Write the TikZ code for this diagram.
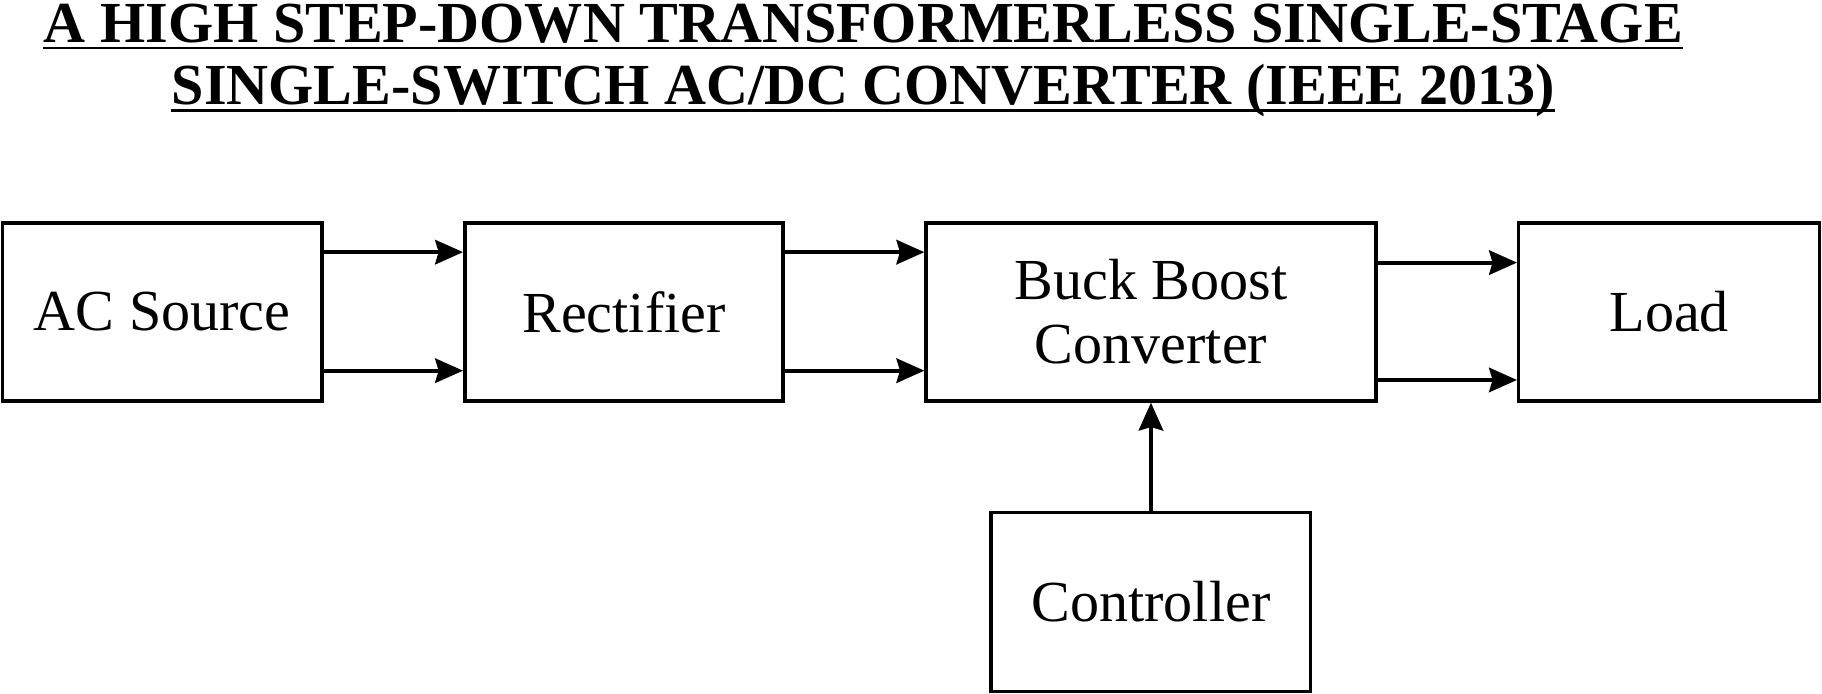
\documentclass[tikz,border=0pt]{standalone}
\usepackage{fontspec}
\setmainfont{Liberation Serif}
\usetikzlibrary{arrows.meta}
\begin{document}
\begin{tikzpicture}[x=0.5pt,y=-0.5pt,
  blk/.style={draw,line width=1.5pt,inner sep=0pt,font=\fontsize{25}{27.5}\selectfont,align=center},
  arr/.style={line width=1.7pt,-{Stealth[length=12pt,width=10.5pt,inset=1.5pt]}},
  ttl/.style={font=\fontsize{25}{30}\selectfont\bfseries,anchor=base,inner sep=0pt}]
\useasboundingbox (0,0) rectangle (1568,597);
\node[ttl] (t1) at (743,36.5) {A HIGH STEP-DOWN TRANSFORMERLESS SINGLE-STAGE};
\node[ttl] (t2) at (743,90) {SINGLE-SWITCH AC/DC CONVERTER (IEEE 2013)};
\draw[line width=1pt] ([yshift=-2.5pt]t1.base west) -- ([yshift=-2.5pt]t1.base east);
\draw[line width=1pt] ([yshift=-2.5pt]t2.base west) -- ([yshift=-2.5pt]t2.base east);
\node[blk,minimum width=137.5pt,minimum height=76.5pt] (ac) at (139.5,268.5) {AC Source};
\node[blk,minimum width=137pt,minimum height=76.5pt] (rect) at (537,268.5) {Rectifier};
\node[blk,minimum width=193.5pt,minimum height=76.5pt] (buck) at (990.5,268.5) {Buck Boost\\Converter};
\node[blk,minimum width=129.5pt,minimum height=76.5pt] (load) at (1436.5,268.5) {Load};
\node[blk,minimum width=137.5pt,minimum height=77pt] (ctrl) at (990.5,518) {Controller};
\draw[arr] ([yshift=25.75pt]ac.east) -- ([yshift=25.75pt]rect.west);
\draw[arr] ([yshift=-25.25pt]ac.east) -- ([yshift=-25.25pt]rect.west);
\draw[arr] ([yshift=25.75pt]rect.east) -- ([yshift=25.75pt]buck.west);
\draw[arr] ([yshift=-25.25pt]rect.east) -- ([yshift=-25.25pt]buck.west);
\draw[arr] ([yshift=21.25pt]buck.east) -- ([yshift=21.25pt]load.west);
\draw[arr] ([yshift=-29.25pt]buck.east) -- ([yshift=-29.25pt]load.west);
\draw[arr] (ctrl.north) -- (buck.south);
\end{tikzpicture}
\end{document}
